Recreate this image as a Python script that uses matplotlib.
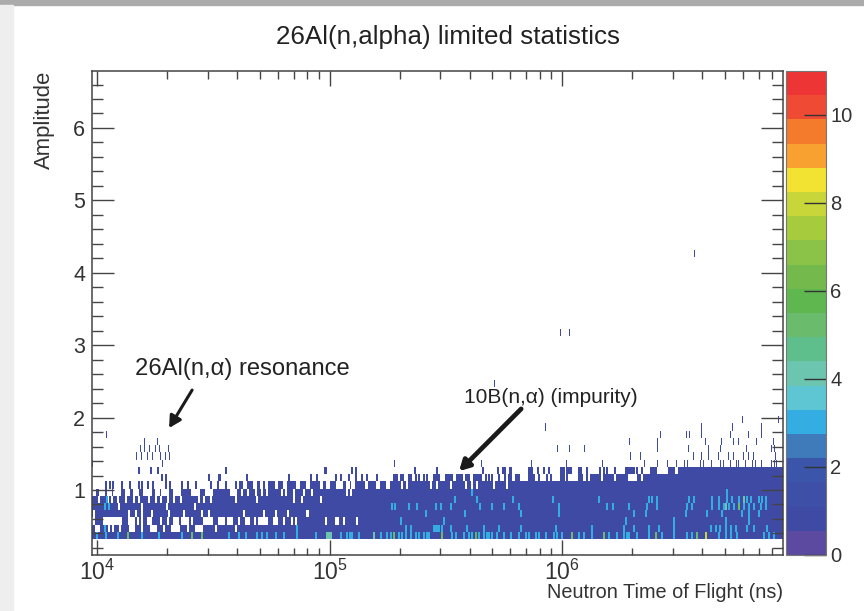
import matplotlib
matplotlib.use('Agg')
import matplotlib.pyplot as plt
from matplotlib.colors import ListedColormap, BoundaryNorm
from matplotlib.patches import Rectangle
from matplotlib.ticker import LogLocator, NullFormatter, FixedLocator
import numpy as np

plt.rcParams['font.family'] = ['Liberation Sans', 'DejaVu Sans']
plt.rcParams['mathtext.default'] = 'regular'

# all x values are log10(time of flight in ns), rows count up from amplitude 0.32 in steps of 0.1

# empty cells inside the band, (from, to)
gaps_row1 = [(3.992,4.007),(4.05,4.05),(4.066,4.066),(4.095,4.095),(4.14,4.157),(4.193,4.193),(4.229,4.25),(4.286,4.286),(4.322,4.35),(4.387,4.387),(4.423,4.45),(4.508,4.508),(4.595,4.595)]
gaps_row2 = [(3.98,3.985),(4.028,4.064),(4.071,4.10),(4.136,4.157),(4.172,4.172),(4.193,4.193),(4.215,4.229),(4.272,4.272),(4.301,4.301),(4.329,4.344),(4.365,4.387),(4.408,4.408),(4.458,4.494),(4.523,4.544),(4.559,4.58),(4.609,4.609),
	(4.637,4.651),(4.675,4.675),(4.694,4.73),(4.758,4.773),(4.801,4.801),(4.837,4.837),(4.852,4.852),(4.98,4.98),(5.024,5.034),(5.059,5.059),(5.117,5.117)]
gaps_row3 = [(3.985,3.985),(4.136,4.136),(4.164,4.164),(4.193,4.193),(4.236,4.236),(4.308,4.308),(4.372,4.372),(4.451,4.451),(4.48,4.48),(4.63,4.63),(4.715,4.715),(4.765,4.765),(4.82,4.82),(4.90,4.906)]
gaps_row4 = [(4.09,4.09),(4.19,4.19),(4.30,4.30),(4.42,4.42)]
gaps_row5 = [(4.007,4.007),(4.043,4.043),(4.064,4.064),(4.086,4.086),(4.121,4.121),(4.157,4.157),(4.179,4.179),(4.222,4.222),(4.25,4.25),(4.272,4.272),(4.301,4.301),(4.329,4.329),(4.358,4.358),(4.437,4.437),(4.458,4.458),(4.487,4.487),(4.594,4.594),(4.687,4.687),(4.844,4.844),(4.88,4.88),(4.959,4.959)]
gaps_row6 = [(3.978,3.989),(4.01,4.028),(4.043,4.057),(4.071,4.096),(4.121,4.136),(4.157,4.172),(4.2,4.229),(4.25,4.265),(4.279,4.301),(4.329,4.354),(4.408,4.437),(4.465,4.494),(4.573,4.595),
	(4.622,4.622),(4.647,4.647),(4.68,4.68),(4.708,4.708),(4.73,4.73),(4.794,4.794),(4.809,4.809),(4.844,4.844),(4.887,4.887),(4.923,4.923),(5.074,5.074),(5.088,5.088)]
gaps_row7 = [(4.629,4.636),(4.672,4.679),(4.701,4.708),(4.723,4.73),(4.766,4.773),(4.801,4.808),(4.859,4.866),(4.902,4.909),(4.959,4.966),(4.988,4.995),(5.031,5.038),(5.045,5.052),(5.074,5.081),(5.095,5.102),(5.153,5.16),(5.203,5.21),(5.246,5.253),
	(5.31,5.31),(5.332,5.332),(5.432,5.432),(5.461,5.461),(5.518,5.518),(5.583,5.583),(5.611,5.611),(5.633,5.633),(5.704,5.704),(5.762,5.762)]
gaps_row8 = [(6.17,6.17),(6.223,6.223),(6.285,6.313),(6.342,6.342)]

# row 7 is only partly filled below 4.615, row 8 below 6.12, row 9 below 6.52
fill_row7 = [4.035,4.053,4.067,4.104,4.139,4.179,4.193,4.215,4.239,4.293,4.311,4.365,4.387,4.425,4.487,4.516,4.551,4.594,4.612]
fill_row8 = [(4.279,4.279),(4.296,4.296),(4.48,4.48),(4.52,4.526),(4.644,4.644),(4.823,4.823),(4.916,4.916),(4.942,4.942),(5.024,5.024),(5.045,5.045),(5.081,5.081),(5.11,5.11),(5.138,5.138),(5.157,5.157),(5.2,5.2),
	(5.274,5.289),(5.303,5.314),(5.339,5.346),(5.368,5.368),(5.382,5.382),(5.403,5.403),(5.418,5.418),(5.446,5.468),(5.497,5.525),(5.547,5.568),(5.583,5.597),(5.618,5.647),(5.669,5.669),(5.683,5.683),(5.697,5.697),(5.726,5.726),(5.75,5.75),(5.769,5.779),(5.798,5.812),(5.855,5.877),(5.898,5.898),(5.934,5.934),(5.948,5.948),(5.991,6.006),(6.02,6.02),(6.07,6.084),(6.106,6.106)]
fill_row9 = [(4.231,4.231),(4.178,4.178),(4.261,4.261),(4.554,4.554),(4.978,4.984),(5.096,5.096),(5.11,5.11),(5.363,5.363),(5.458,5.458),(5.659,5.659),(5.722,5.722),(5.745,5.753),(5.773,5.779),(5.855,5.869),(5.895,5.895),(5.92,5.92),(5.941,5.941),(5.991,6.006),(6.02,6.034),(6.07,6.077),(6.106,6.106),
	(6.16,6.16),(6.177,6.177),(6.192,6.192),(6.223,6.223),(6.27,6.306),(6.321,6.321),(6.342,6.342),(6.378,6.4),(6.457,6.478),(6.5,6.514),(6.52,6.95)]

# single counts standing above the band
lone_row10 = [3.977,4.283,5.277,5.654,5.869,6.017,6.174,6.352,6.41,6.453,6.49,6.524,6.54,6.593,6.607,6.643,6.679,6.694,6.725,6.75,6.757,6.787,6.82,6.83,6.858,6.9,6.912,6.92]
lone_row11 = [4.168,4.192,4.217,4.24,4.274,4.293,4.311,6.292,6.335,6.564,6.6,6.63,6.672,6.715,6.737,6.78,6.8,6.823,6.916]
lone_row12 = [4.185,4.204,4.225,4.25,4.267,4.307,5.98,6.03,6.094,6.41,6.543,6.629,6.682,6.794,6.9,6.912]
lone_row13 = [4.204,4.26,6.29,6.41,6.615,6.686,6.737,6.758,6.837,6.908]
lone_row14 = [4.039,6.424,6.533,6.547,6.597,6.722,6.801,6.858]
lone_row15 = [5.927,6.6,6.734,6.858]
lone_row16 = [6.777,6.93]
lone_far_x = [5.707,5.994,6.031,6.568]
lone_far_row = [21,28,28,39]

# cells with more than one count, default 3
hot_row0 = [3.999,4.035,4.086,4.193,4.265,4.365,4.566,4.609,4.637,4.687,4.708,4.73,4.766,4.801,4.859,4.938,5.045,5.074,5.085,5.095,5.124,5.217,5.246,
	5.26,5.296,5.31,5.325,5.346,5.368,5.382,5.403,5.418,5.425,5.525,5.54,5.575,5.597,5.611,5.64,5.661,5.673,5.683,5.697,5.719,5.747,5.776,5.812,5.841,5.855,5.884,5.898,5.927,5.963,5.977,5.998,6.07,6.092,
	6.127,6.199,6.235,6.263,6.275,6.285,6.321,6.371,6.428,6.478,6.536,6.557,6.672,6.701,6.722,6.751,6.866,6.887,6.909]
hot_row1 = [4.03,4.859,5.325,5.346,5.446,5.453,5.46,5.468,5.482,5.518,5.59,5.661,5.726,5.819,5.97,6.127,6.263,6.306,6.371,6.414,6.478,6.636,6.658,6.676,6.701,6.722,6.744,6.794,6.822,6.88]
hot_row2 = [5.303,5.49,6.271,6.478,6.701,6.801]
hot_row3 = [5.41,5.578,5.819,5.984,6.306,6.357,6.529,6.622,6.686,6.772,6.801,6.844]
hot_row4 = [4.03,4.05,5.267,5.277,5.339,5.375,5.454,5.475,5.518,5.644,5.697,5.747,5.812,5.984,6.192,6.217,6.285,6.364,6.407,6.536,6.557,6.643,6.672,6.694,6.715,6.737,6.758,6.78,6.801,6.823,6.851,6.873]
hot_row5 = [4.04,5.535,5.63,5.788,5.958,6.156,6.371,6.385,6.404,6.543,6.564,6.643,6.672,6.708,6.729,6.758,6.78,6.794,6.808,6.844,6.858,6.873]
hot_row6 = [5.611,6.708]

# greener cells: position, row, count
warm_x = [4.129,4.408,4.451,4.988,4.996,5.005,5.188,5.274,5.482,5.626,6.041,6.177,6.4,6.579,6.615,6.701,6.758,6.78]
warm_row = [0,0,0,0,0,0,0,0,0,0,0,0,0,0,0,4,4,5]
warm_val = [5,5,5,4,4,4,4,5,5,6,5,5,5,5,8,4,5,4]

# colour bar levels, bottom to top
palette = ['#5b4a9f','#3f4aa5','#3d4fa7','#3b55ab','#3f7abb','#33ade2','#5ec5d3','#6cc5ae','#5fbf8c','#6abb6c',
	'#5fb750','#74b94c','#8bc348','#a6cc3e','#c8d63a','#f2e332','#f9a130','#f47a2c','#ef4a34','#ee3535']
z_max = 11.0
bar_ticks = [0,2,4,6,8,10]

bin_w = 0.0043
x_edges = np.arange(3.978, 6.956, bin_w)
y_edges = 0.32 + 0.1*np.arange(41)
z = np.zeros((40, len(x_edges)-1))


def bin_of(x):
	return int(np.clip(np.searchsorted(x_edges, x) - 1, 0, z.shape[1]-1))


def put(row, lo, hi, val):
	z[row, bin_of(lo):bin_of(hi)+1] = val


# solid part of the band first, then take the gaps out
z[0:7, :] = 1
put(7, 4.615, 6.95, 1)
put(8, 6.12, 6.95, 1)
for row, gaps in [(1,gaps_row1),(2,gaps_row2),(3,gaps_row3),(4,gaps_row4),(5,gaps_row5),(6,gaps_row6),(7,gaps_row7),(8,gaps_row8)]:
	for lo, hi in gaps:
		put(row, lo, hi+bin_w, 0)
for x in fill_row7:
	put(7, x, x+bin_w, 1)
for lo, hi in fill_row8:
	put(8, lo, hi+bin_w, 1)
for lo, hi in fill_row9:
	put(9, lo, hi+bin_w, 1)
for row, xs in [(10,lone_row10),(11,lone_row11),(12,lone_row12),(13,lone_row13),(14,lone_row14),(15,lone_row15),(16,lone_row16)]:
	for x in xs:
		put(row, x, x, 1)
for x, row in zip(lone_far_x, lone_far_row):
	put(row, x, x, 1)
for row, xs in enumerate([hot_row0,hot_row1,hot_row2,hot_row3,hot_row4,hot_row5,hot_row6]):
	for x in xs:
		put(row, x, x+bin_w, 3)
for x, row, val in zip(warm_x, warm_row, warm_val):
	put(row, x, x+bin_w, val)

W, H = 864, 611
fig = plt.figure(figsize=(W/100, H/100), dpi=100, facecolor='white')

# grey edges of the slide screenshot
fig.patches.append(Rectangle((0, 1-5/H), 1, 5/H, transform=fig.transFigure, color='#ababab', zorder=0))
fig.patches.append(Rectangle((0, 0), 13/W, 1-5/H, transform=fig.transFigure, color='#eeeeee', zorder=0))

ax = fig.add_axes([92/W, 1-555/H, (783-92)/W, (555-71)/H])
cmap = ListedColormap(palette)
norm = BoundaryNorm(np.linspace(0, z_max, len(palette)+1), len(palette))
mesh = ax.pcolormesh(10**x_edges, y_edges, np.ma.masked_equal(z, 0), cmap=cmap, norm=norm, shading='flat', antialiased=False, linewidth=0)

ax.set_xscale('log')
ax.set_xlim(10**3.9785, 10**6.95)
ax.set_ylim(0.102, 6.787)
edge = '#444444'
for s in ax.spines.values():
	s.set_color(edge)
	s.set_linewidth(1.1)
ax.xaxis.set_major_locator(LogLocator(base=10, numticks=8))
ax.xaxis.set_minor_locator(LogLocator(base=10, subs=range(2, 10), numticks=20))
ax.xaxis.set_minor_formatter(NullFormatter())
ax.yaxis.set_major_locator(FixedLocator(range(1, 7)))
ax.yaxis.set_minor_locator(FixedLocator(np.arange(0.2, 6.8, 0.2)))
ax.tick_params(axis='x', which='major', direction='in', top=True, length=10.8, width=1, color=edge, labelsize=16.5, labelcolor='#333333', pad=3.5)
ax.tick_params(axis='x', which='minor', direction='in', top=True, length=5.4, width=1, color=edge)
ax.tick_params(axis='y', which='major', direction='in', right=True, length=15.8, width=1, color=edge, labelsize=15.5, labelcolor='#333333', pad=5)
ax.tick_params(axis='y', which='minor', direction='in', right=True, length=8, width=1, color=edge)

fig.text(448/W, 1-37/H, '26Al(n,alpha) limited statistics', ha='center', va='center', fontsize=18.7, color='#222222')
fig.text(783/W, 1-593/H, 'Neutron Time of Flight (ns)', ha='right', va='center', fontsize=14.3, color='#333333')
fig.text(44/W, 1-71/H, 'Amplitude', ha='center', va='top', rotation=90, fontsize=15.9, color='#333333')

ax.text(10**4.163, 2.67, '26Al(n,\u03b1) resonance', ha='left', va='center', fontsize=17.1, color='#222222')
ax.text(10**5.578, 2.28, '10B(n,\u03b1) (impurity)', ha='left', va='center', fontsize=15, color='#222222')
ax.annotate('', xy=(10**4.31, 1.856), xytext=(10**4.409, 2.38),
	arrowprops=dict(arrowstyle='-|>,head_length=0.7,head_width=0.38', color='#1a1a1a', lw=2.2, shrinkA=0, shrinkB=0))
ax.annotate('', xy=(10**5.557, 1.26), xytext=(10**5.824, 2.12),
	arrowprops=dict(arrowstyle='-|>,head_length=0.6,head_width=0.33', color='#1a1a1a', lw=3.4, shrinkA=0, shrinkB=0))

cax = fig.add_axes([786/W, 1-555/H, (826-786)/W, (555-71)/H])
cb = fig.colorbar(mesh, cax=cax, ticks=bar_ticks, spacing='proportional', drawedges=False)
cb.minorticks_off()
cb.outline.set_edgecolor('#777777')
cb.outline.set_linewidth(0.8)
cax.tick_params(axis='y', direction='in', length=15.8, width=1, color='#333333', labelsize=14.5, labelcolor='#333333', pad=3)

fig.savefig('out.png', dpi=100, facecolor='white')
